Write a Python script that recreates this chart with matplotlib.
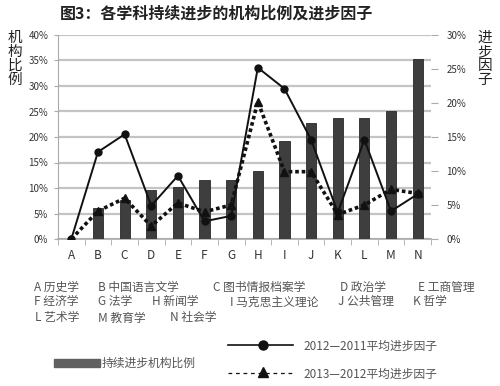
import numpy as np
import matplotlib
matplotlib.use("Agg")
from matplotlib import pyplot as plt
from matplotlib.lines import Line2D
from matplotlib.patches import Rectangle

plt.rcParams['font.family'] = ['Noto Sans CJK SC', 'DejaVu Sans']

# data (percent)
cats = list('ABCDEFGHIJKLMN')
ratio = [0, 6.0, 7.7, 9.7, 10.1, 11.5, 11.5, 13.3, 19.2, 22.8, 23.8, 23.8, 25.1, 35.2]
f_2012_2011 = [0, 12.8, 15.4, 4.9, 9.3, 2.6, 3.4, 25.2, 22.1, 14.6, 3.9, 14.6, 4.1, 6.6]
f_2013_2012 = [0, 4.1, 6.0, 1.9, 5.3, 4.0, 5.0, 20.2, 9.9, 9.9, 3.6, 5.0, 7.3, 6.7]

left_ticks = [0, 5, 10, 15, 20, 25, 30, 35, 40]
right_ticks = [0, 5, 10, 15, 20, 25, 30]

names = [
    [('A 历史学', 34), ('B 中国语言文学', 98), ('C 图书情报档案学', 213), ('D 政治学', 340), ('E 工商管理', 418)],
    [('F 经济学', 34), ('G 法学', 98), ('H 新闻学', 152), ('I 马克思主义理论', 230), ('J 公共管理', 338), ('K 哲学', 413)],
    [('L 艺术学', 35), ('M 教育学', 98), ('N 社会学', 170)],
]

W, H = 500, 386
fig = plt.figure(figsize=(W / 100, H / 100), dpi=100)

def fx(px):
    return px / W

def fy(py):
    return 1 - py / H

ax = fig.add_axes([fx(58), fy(239), fx(431) - fx(58), fy(35) - fy(239)])
x = np.arange(len(cats))

ax.bar(x, ratio, width=0.38, color='#3e3e3e', edgecolor='#2a2a2a', linewidth=0.6, zorder=3)
ax.set_xlim(-0.5, len(cats) - 0.5)
ax.set_ylim(0, 40)
ax.set_yticks(left_ticks)
ax.set_yticklabels(['%d%%' % t for t in left_ticks])
ax.yaxis.grid(True, color='#c4c4c4', linewidth=1.6, zorder=0)
ax.set_axisbelow(True)
ax.set_xticks(x)
ax.set_xticklabels(cats)
ax.set_xticks(np.arange(-0.5, len(cats)), minor=True)
ax.tick_params(axis='x', which='major', length=0, pad=7, labelsize=8.5, labelcolor='#333333')
ax.tick_params(axis='x', which='minor', length=4, color='#aaaaaa')
ax.tick_params(axis='y', length=3, color='#aaaaaa', labelsize=7, labelcolor='#333333', pad=4)
for s in ['top', 'right']:
    ax.spines[s].set_visible(False)
ax.spines['left'].set_color('#aaaaaa')
ax.spines['bottom'].set_color('#aaaaaa')
ax.spines['bottom'].set_linewidth(1.2)

ax2 = ax.twinx()
ax2.set_ylim(0, 30)
ax2.set_yticks(right_ticks)
ax2.set_yticklabels(['%d%%' % t for t in right_ticks])
ax2.tick_params(axis='y', length=5, color='#aaaaaa', labelsize=7, labelcolor='#333333', pad=6)
for s in ['top', 'left', 'bottom', 'right']:
    ax2.spines[s].set_visible(False)

ax2.plot(x, f_2013_2012, color='#111111', linestyle=(0, (1, 0.8)), linewidth=2.6,
         marker='^', markersize=5.5, zorder=4)
ax2.plot(x, f_2012_2011, color='#111111', linestyle='-', linewidth=1.4,
         marker='o', markersize=5, zorder=5)

# title and axis names
fig.text(fx(60), fy(14), '图3：各学科持续进步的机构比例及进步因子', fontsize=11.5,
         fontweight='bold', color='#222222', va='center', ha='left')
fig.text(fx(15), fy(31), '\n'.join('机构比例'), fontsize=10.5, color='#222222',
         ha='center', va='top', linespacing=1.0)
fig.text(fx(485), fy(31), '\n'.join('进步因子'), fontsize=10.5, color='#222222',
         ha='center', va='top', linespacing=1.0)

# subject names
rows_y = [287, 302, 318]
for row, yy in zip(names, rows_y):
    for label, xx in row:
        fig.text(fx(xx), fy(yy), label, fontsize=8.5, color='#555555', ha='left', va='center')

# legend
fig.patches.append(Rectangle((fx(54), fy(367)), fx(100) - fx(54), fy(359) - fy(367),
                             transform=fig.transFigure, color='#606060'))
fig.text(fx(102), fy(363), '持续进步机构比例', fontsize=8.5, color='#555555', ha='left', va='center')

fig.lines.append(Line2D([fx(228), fx(293)], [fy(345), fy(345)], transform=fig.transFigure,
                        color='#111111', linewidth=1.2))
fig.lines.append(Line2D([fx(263)], [fy(345)], transform=fig.transFigure, color='#111111',
                        marker='o', markersize=6.5))
fig.text(fx(303), fy(346), '2012—2011平均进步因子', fontsize=8.5, color='#555555', ha='left', va='center')

fig.lines.append(Line2D([fx(228), fx(293)], [fy(373), fy(373)], transform=fig.transFigure,
                        color='#111111', linewidth=0.9, linestyle=(0, (3, 3))))
fig.lines.append(Line2D([fx(263)], [fy(372)], transform=fig.transFigure, color='#111111',
                        marker='^', markersize=6.5))
fig.text(fx(303), fy(374), '2013—2012平均进步因子', fontsize=8.5, color='#555555', ha='left', va='center')

fig.savefig('out.png', dpi=100)
